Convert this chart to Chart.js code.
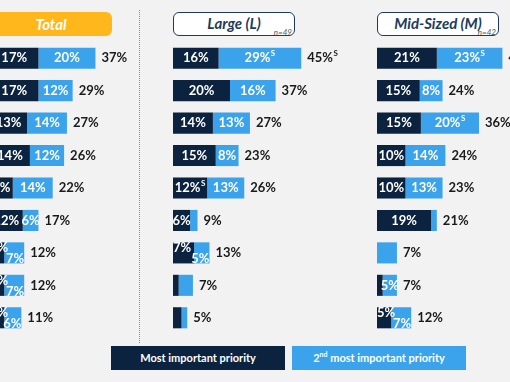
<!DOCTYPE html>
<html>
<head>
<meta charset="utf-8">
<script src="https://cdn.jsdelivr.net/npm/chart.js@4.4.0/dist/chart.umd.min.js"></script>
<style>
body { margin: 0; width: 510px; height: 382px; overflow: hidden; background: #f2f2f2; position: relative; font-family: Lato, sans-serif; }
canvas { position: absolute; top: 42px; }
.hdr { position: absolute; top: 12px; height: 24px; line-height: 24px; box-sizing: border-box; border-radius: 6px; text-align: center; font-weight: bold; font-style: italic; font-size: 15px; }
.hdr.total { left: -10px; width: 122px; background: #ffb71b; color: #fff; }
.hdr.box { width: 122px; background: #fff; border: 1.5px solid #1d3b5e; color: #1d3b5e; line-height: 21px; }
.hdr .n { position: absolute; right: 2px; bottom: -2px; font-size: 8px; font-weight: normal; color: #555; line-height: 10px; }
.sep { position: absolute; left: 139px; top: 10px; height: 333px; border-left: 1.5px dotted #8a8a8a; }
.leg { position: absolute; top: 346px; height: 24px; line-height: 24px; width: 174px; text-align: center; color: #fff; font-weight: bold; font-size: 11px; }
.leg sup { font-size: 7px; line-height: 0; }
</style>
</head>
<body>
<div class="hdr total">Total</div>
<div class="hdr box" style="left:173px">Large (L)<span class="n">n=49</span></div>
<div class="hdr box" style="left:377px">Mid-Sized (M)<span class="n">n=42</span></div>
<div class="sep"></div>
<canvas id="cTotal" width="171" height="292" style="left:-10px"></canvas>
<canvas id="cLarge" width="171" height="292" style="left:173px"></canvas>
<canvas id="cMid" width="171" height="292" style="left:377px"></canvas>
<div class="leg" style="left:111px;background:#0c2340">Most important priority</div>
<div class="leg" style="left:292px;background:#3ba3eb">2<sup>nd</sup> most important priority</div>
<script>
var items = ['1', '2', '3', '4', '5', '6', '7', '8', '9'];

// a trailing S marks a significant difference (drawn as superscript)
var totalFirst = [17, 17, 13, 14, 8, 11.5, 5, 5, 5];
var totalSecond = [20, 12, 14, 12, 14, 5.5, 7, 7, 6];
var totalFirstLbl = ['17%', '17%', '13%', '14%', '8%', '12%', '5%', '5%', '5%'];
var totalSecondLbl = ['20%', '12%', '14%', '12%', '14%', '6%', '7%', '7%', '6%'];
var totalNetLbl = ['37%', '29%', '27%', '26%', '22%', '17%', '12%', '12%', '11%'];

var largeFirst = [16, 20, 14, 15, 12, 6, 7.4, 2, 3];
var largeSecond = [29, 16, 13, 8, 13, 2.6, 5.4, 5, 2];
var largeFirstLbl = ['16%', '20%', '14%', '15%', '12%S', '6%', '7%', '', ''];
var largeSecondLbl = ['29%S', '16%', '13%', '8%', '13%', '', '5%', '', ''];
var largeNetLbl = ['45%S', '37%', '27%', '23%', '26%', '9%', '13%', '7%', '5%'];

var midFirst = [21, 15, 15.4, 10, 10, 19, 0, 2, 5];
var midSecond = [23, 8, 20.4, 14, 13, 2, 7, 5, 7];
var midFirstLbl = ['21%', '15%', '15%', '10%', '10%', '19%', '', '', '5%'];
var midSecondLbl = ['23%S', '8%', '20%S', '14%', '13%', '', '', '5%', '7%'];
var midNetLbl = ['44%S', '24%', '36%S', '24%', '23%', '21%', '7%', '7%', '12%'];

var MAIN_FONT = 'bold 13px Lato';
var SUP_FONT = 'bold 8px Lato';

function splitLbl(t) {
    if (t && t.charAt(t.length - 1) === 'S') return [t.slice(0, -1), 'S'];
    return [t || '', ''];
}

function lblWidth(c, t) {
    var p = splitLbl(t);
    c.font = MAIN_FONT;
    var w = c.measureText(p[0]).width;
    if (p[1]) {
        c.font = SUP_FONT;
        w += c.measureText(p[1]).width + 0.5;
    }
    return w;
}

function drawLbl(c, t, x, y, align, color) {
    if (!t) return;
    var p = splitLbl(t);
    var w = lblWidth(c, t);
    var left = align === 'center' ? x - w / 2 : (align === 'right' ? x - w : x);
    c.fillStyle = color;
    c.textAlign = 'left';
    c.textBaseline = 'middle';
    c.font = MAIN_FONT;
    c.fillText(p[0], left, y);
    if (p[1]) {
        var wm = c.measureText(p[0]).width;
        c.font = SUP_FONT;
        c.fillText(p[1], left + wm + 0.5, y - 5);
    }
}

var barLabels = {
    id: 'barLabels',
    afterDatasetsDraw: function (chart) {
        var c = chart.ctx;
        var ds = chart.data.datasets;
        var m0 = chart.getDatasetMeta(0), m1 = chart.getDatasetMeta(1);
        c.save();
        for (var i = 0; i < m0.data.length; i++) {
            var b0 = m0.data[i], b1 = m1.data[i];
            var y = b0.y;
            var l0 = ds[0].lbl[i], l1 = ds[1].lbl[i];
            var w0 = b0.x - b0.base, w1 = b1.x - b1.base;
            var stagger = l0 && l1 && (lblWidth(c, l0) + lblWidth(c, l1) + 4 > w0 + w1);
            if (stagger) {
                drawLbl(c, l0, b0.base, y - 5, 'left', '#fff');
                drawLbl(c, l1, b1.x, y + 6, 'right', '#fff');
            } else {
                drawLbl(c, l0, (b0.base + b0.x) / 2, y, 'center', '#fff');
                drawLbl(c, l1, (b1.base + b1.x) / 2, y, 'center', '#fff');
            }
            drawLbl(c, ds[1].net[i], b1.x + 6, y, 'left', '#1a1a1a');
        }
        c.restore();
    }
};

function makeChart(id, first, second, firstLbl, secondLbl, netLbl) {
    var ctx = document.getElementById(id).getContext('2d');
    return new Chart(ctx, {
        type: 'bar',
        data: {
            labels: items,
            datasets: [{
                label: 'Most important priority',
                data: first,
                backgroundColor: '#0c2340',
                lbl: firstLbl
            }, {
                label: '2nd most important priority',
                data: second,
                backgroundColor: '#3ba3eb',
                lbl: secondLbl,
                net: netLbl
            }]
        },
        options: {
            indexAxis: 'y',
            responsive: false,
            animation: false,
            devicePixelRatio: 1,
            layout: { padding: 0 },
            datasets: {
                bar: { barPercentage: 0.65, categoryPercentage: 1, borderWidth: 0 }
            },
            scales: {
                x: { display: false, stacked: true, min: 0, max: 60 },
                y: { display: false, stacked: true }
            },
            plugins: {
                legend: { display: false },
                tooltip: { enabled: false }
            }
        },
        plugins: [barLabels]
    });
}

makeChart('cTotal', totalFirst, totalSecond, totalFirstLbl, totalSecondLbl, totalNetLbl);
makeChart('cLarge', largeFirst, largeSecond, largeFirstLbl, largeSecondLbl, largeNetLbl);
makeChart('cMid', midFirst, midSecond, midFirstLbl, midSecondLbl, midNetLbl);
</script>
</body>
</html>
